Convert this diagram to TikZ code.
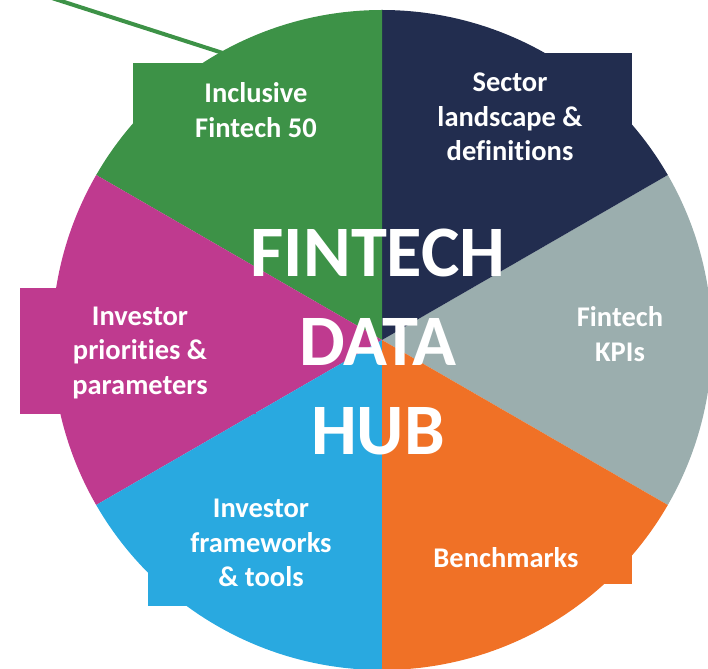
\documentclass[tikz,border=0pt]{standalone}
\usepackage{fontspec}
\setmainfont{Carlito}[Ligatures=NoCommon]
\definecolor{hubgreen}{HTML}{3D9247}
\definecolor{hubnavy}{HTML}{222D4F}
\definecolor{hubgrey}{HTML}{9BAEAE}
\definecolor{huborange}{HTML}{F07126}
\definecolor{hubblue}{HTML}{29A9E0}
\definecolor{hubpink}{HTML}{BF3A8F}

\begin{document}
\begin{tikzpicture}[x=1pt,y=1pt,
    seglabel/.style={text=white,font=\fontsize{28.5}{34.5}\selectfont\bfseries,align=center,inner sep=0pt},
    hubtitle/.style={text=white,font=\fontsize{72.5}{89}\selectfont\bfseries,align=center,inner sep=0pt}]
\useasboundingbox (-382,-328) rectangle (326,340);
% green pointer, runs in under the wheel
\coordinate (lead) at (-355,350);
\coordinate (leadend) at (-122,275);
\draw[hubgreen,line width=4pt] (lead) -- (leadend);
% six sectors of the wheel
\fill[hubgrey] (0,0) -- (-30:330) arc (-30:30:330) -- cycle;
\fill[hubnavy] (0,0) -- (30:330) arc (30:90:330) -- cycle;
\fill[hubgreen] (0,0) -- (90:330) arc (90:150:330) -- cycle;
\fill[hubpink] (0,0) -- (150:330) arc (150:210:330) -- cycle;
\fill[hubblue] (0,0) -- (210:330) arc (210:270:330) -- cycle;
\fill[huborange] (0,0) -- (270:330) arc (270:330:330) -- cycle;
% text boxes sticking out of the rim
\fill[hubgreen] (-249,183) rectangle (0,277);
\fill[hubnavy] (6,159) rectangle (250,287);
\fill[hubpink] (-362,-74) rectangle (-126,52);
\fill[hubblue] (-234,-266) rectangle (-8,-140);
\fill[huborange] (0,-244) rectangle (250,-192);
% labels
\node[seglabel] (inclusive) at (-126,230) {Inclusive\\Fintech 50};
\node[seglabel] (sector) at (128,223) {Sector\\landscape \&\\definitions};
\node[seglabel] (kpis) at (238,6) {Fintech\\KPIs};
\node[seglabel] (bench) at (124,-218) {Benchmarks};
\node[seglabel] (tools) at (-121,-203) {Investor\\frameworks\\\& tools};
\node[seglabel] (priorities) at (-242,-13) {Investor\\priorities \&\\parameters};
\node[hubtitle] (hub) at (-4,-2) {FINTECH\\DATA\\HUB};
\end{tikzpicture}
\end{document}
